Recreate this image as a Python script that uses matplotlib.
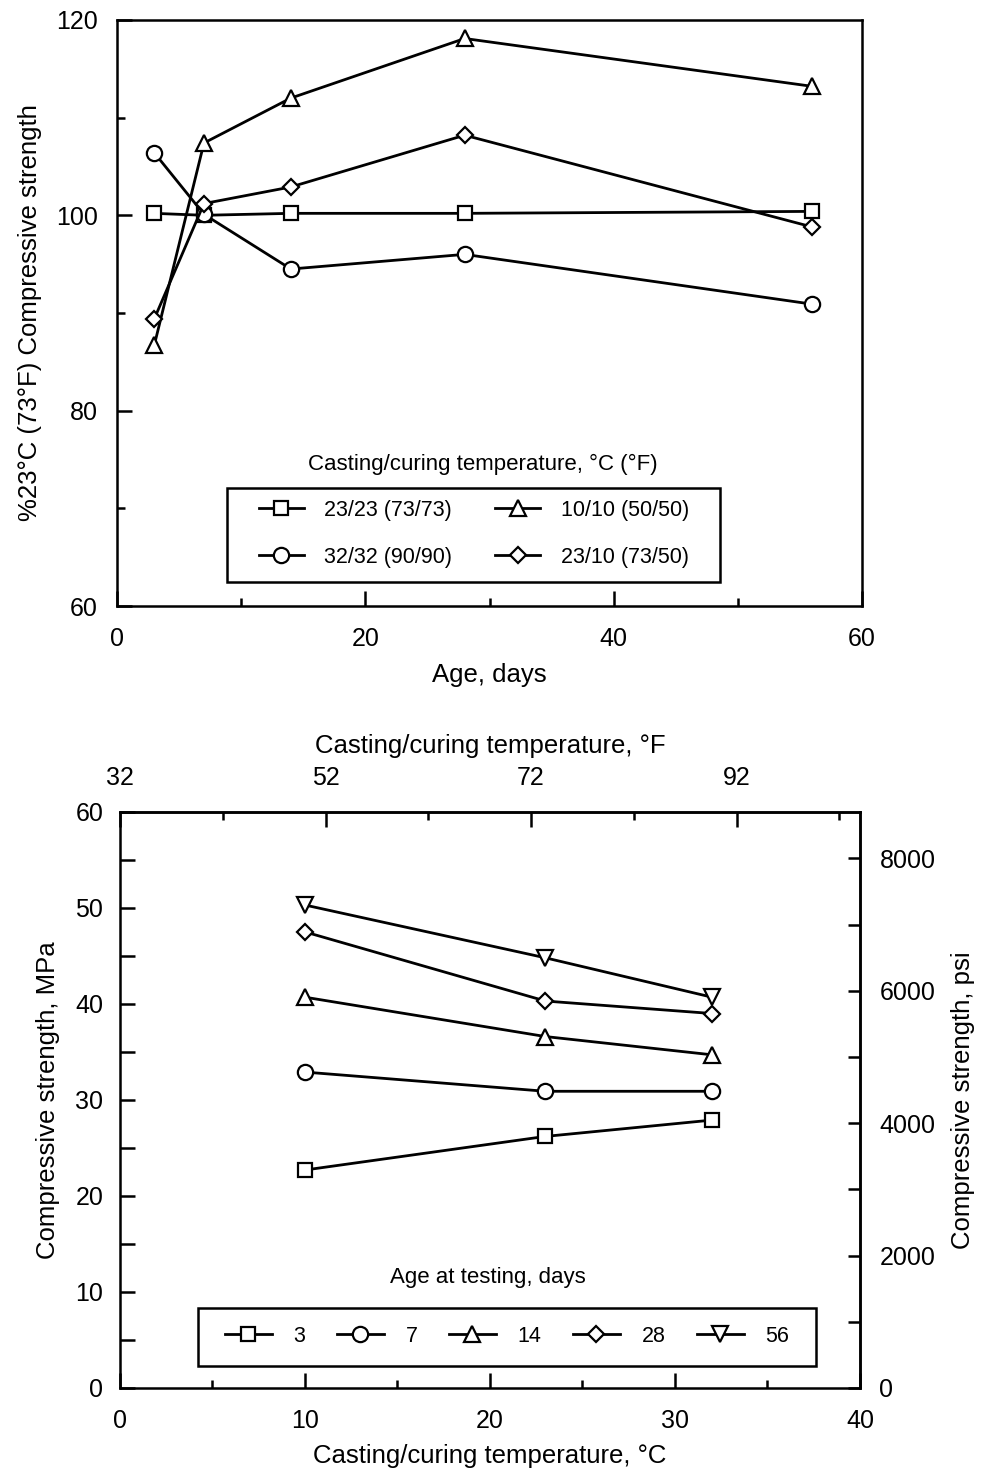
import matplotlib
matplotlib.use("Agg")
import matplotlib.pyplot as plt
from matplotlib.patches import Rectangle
from matplotlib.ticker import MultipleLocator, FixedLocator

plt.rcParams["font.family"] = ["Liberation Sans", "DejaVu Sans"]

# %% Top panel data: relative strength vs age
age_days = [3, 7, 14, 28, 56]
rel_23_23 = [100.2, 100.0, 100.2, 100.2, 100.4]
rel_32_32 = [106.4, 100.1, 94.5, 96.0, 90.9]
rel_10_10 = [86.7, 107.4, 112.0, 118.1, 113.2]
rel_23_10 = [89.4, 101.2, 102.9, 108.2, 98.8]
top_labels = ["23/23 (73/73)", "32/32 (90/90)", "10/10 (50/50)", "23/10 (73/50)"]

# %% Bottom panel data: strength vs casting/curing temperature
temp_c = [10, 23, 32]
mpa_3 = [22.7, 26.2, 27.9]
mpa_7 = [32.9, 30.9, 30.9]
mpa_14 = [40.7, 36.6, 34.7]
mpa_28 = [47.5, 40.3, 39.0]
mpa_56 = [50.3, 44.8, 40.7]
age_labels = ["3", "7", "14", "28", "56"]

LW = 2.0
MS = 11
TICK_FS = 18
LABEL_FS = 18.5
LEG_FS = 15.5
LEG_TITLE_FS = 16


def style_line(ax, x, y, marker, label, ms=MS):
    ax.plot(x, y, color="black", lw=LW, marker=marker, ms=ms,
            mfc="white", mec="black", mew=1.6, label=label, zorder=3)


def legend_box(ax, x0, y0, w, h):
    # plain square box drawn round a frameless legend
    ax.add_patch(Rectangle((x0, y0), w, h, transform=ax.transAxes, fill=True,
                           facecolor="white", edgecolor="black", lw=1.8, zorder=4))


fig = plt.figure(figsize=(9.81, 14.77), dpi=100)

# %% Top panel
ax1 = fig.add_axes([0.1193, 0.5897, 0.7594, 0.3968])
style_line(ax1, age_days, rel_23_23, "s", top_labels[0], ms=10)
style_line(ax1, age_days, rel_32_32, "o", top_labels[1])
style_line(ax1, age_days, rel_10_10, "^", top_labels[2])
style_line(ax1, age_days, rel_23_10, "D", top_labels[3], ms=8.5)
ax1.set_xlim(0, 60)
ax1.set_ylim(60, 120)
ax1.xaxis.set_major_locator(MultipleLocator(20))
ax1.xaxis.set_minor_locator(MultipleLocator(10))
ax1.yaxis.set_major_locator(MultipleLocator(20))
ax1.yaxis.set_minor_locator(MultipleLocator(10))
ax1.tick_params(which="both", direction="in", width=1.8, labelsize=TICK_FS)
ax1.tick_params(axis="x", which="major", length=11, pad=15)
ax1.tick_params(axis="y", which="major", length=11, pad=14)
ax1.tick_params(which="minor", length=6)
for s in ax1.spines.values():
    s.set_linewidth(1.8)
ax1.set_xlabel("Age, days", fontsize=LABEL_FS, labelpad=9)
ax1.set_ylabel("%23°C (73°F) Compressive strength", fontsize=LABEL_FS, labelpad=10)

ax1.text(0.491, 0.241, "Casting/curing temperature, °C (°F)", transform=ax1.transAxes,
         ha="center", va="center", fontsize=LEG_TITLE_FS)
legend_box(ax1, 0.148, 0.041, 0.662, 0.160)
leg1 = ax1.legend(ncol=2, loc="center", bbox_to_anchor=(0.479, 0.123),
                  fontsize=LEG_FS, frameon=False, handlelength=2.1,
                  handletextpad=0.95, labelspacing=1.2, columnspacing=2.0,
                  borderpad=0, borderaxespad=0)
leg1.set_zorder(5)

# %% Bottom panel
ax2 = fig.add_axes([0.1223, 0.0603, 0.7543, 0.3900])
style_line(ax2, temp_c, mpa_3, "s", age_labels[0], ms=10)
style_line(ax2, temp_c, mpa_7, "o", age_labels[1])
style_line(ax2, temp_c, mpa_14, "^", age_labels[2])
style_line(ax2, temp_c, mpa_28, "D", age_labels[3], ms=8.5)
style_line(ax2, temp_c, mpa_56, "v", age_labels[4])
ax2.set_xlim(0, 40)
ax2.set_ylim(0, 60)
ax2.xaxis.set_major_locator(MultipleLocator(10))
ax2.xaxis.set_minor_locator(MultipleLocator(5))
ax2.yaxis.set_major_locator(MultipleLocator(10))
ax2.yaxis.set_minor_locator(MultipleLocator(5))
ax2.tick_params(which="both", direction="in", width=1.8, labelsize=TICK_FS)
ax2.tick_params(axis="x", which="major", length=11, pad=15)
ax2.tick_params(axis="y", which="major", length=11, pad=12)
ax2.tick_params(which="minor", length=6)
ax2.tick_params(axis="y", which="minor", length=11)
for s in ax2.spines.values():
    s.set_linewidth(1.8)
ax2.set_xlabel("Casting/curing temperature, °C", fontsize=LABEL_FS, labelpad=8)
ax2.set_ylabel("Compressive strength, MPa", fontsize=LABEL_FS, labelpad=11)

# right axis in psi
psi_per_mpa = 145.038
ax2r = ax2.secondary_yaxis("right", functions=(lambda v: v * psi_per_mpa,
                                                lambda v: v / psi_per_mpa))
ax2r.yaxis.set_major_locator(MultipleLocator(2000))
ax2r.yaxis.set_minor_locator(MultipleLocator(1000))
ax2r.tick_params(which="both", direction="in", width=1.8, labelsize=TICK_FS, pad=14)
ax2r.tick_params(which="major", length=9)
ax2r.tick_params(which="minor", length=9)
ax2r.spines["right"].set_linewidth(1.8)
ax2r.set_ylabel("Compressive strength, psi", fontsize=LABEL_FS, labelpad=11)
ax2r.xaxis.set_visible(False)

# top axis in Fahrenheit
ax2t = ax2.secondary_xaxis("top", functions=(lambda c: c * 9 / 5 + 32,
                                              lambda f: (f - 32) * 5 / 9))
ax2t.xaxis.set_major_locator(FixedLocator([32, 52, 72, 92]))
ax2t.xaxis.set_minor_locator(FixedLocator([42, 62, 82, 102]))
ax2t.tick_params(which="both", direction="in", width=1.8, labelsize=TICK_FS, pad=16)
ax2t.tick_params(which="major", length=11)
ax2t.tick_params(which="minor", length=6)
ax2t.spines["top"].set_linewidth(1.8)
ax2t.set_xlabel("Casting/curing temperature, °F", fontsize=LABEL_FS, labelpad=9)
ax2t.yaxis.set_visible(False)

ax2.text(0.497, 0.191, "Age at testing, days", transform=ax2.transAxes,
         ha="center", va="center", fontsize=LEG_TITLE_FS)
legend_box(ax2, 0.105, 0.038, 0.836, 0.101)
leg2 = ax2.legend(ncol=5, loc="center", bbox_to_anchor=(0.523, 0.090),
                  fontsize=LEG_FS, frameon=False, handlelength=2.2,
                  handletextpad=1.0, columnspacing=1.45,
                  borderpad=0, borderaxespad=0)
leg2.set_zorder(5)

fig.savefig("out.png", dpi=100)
